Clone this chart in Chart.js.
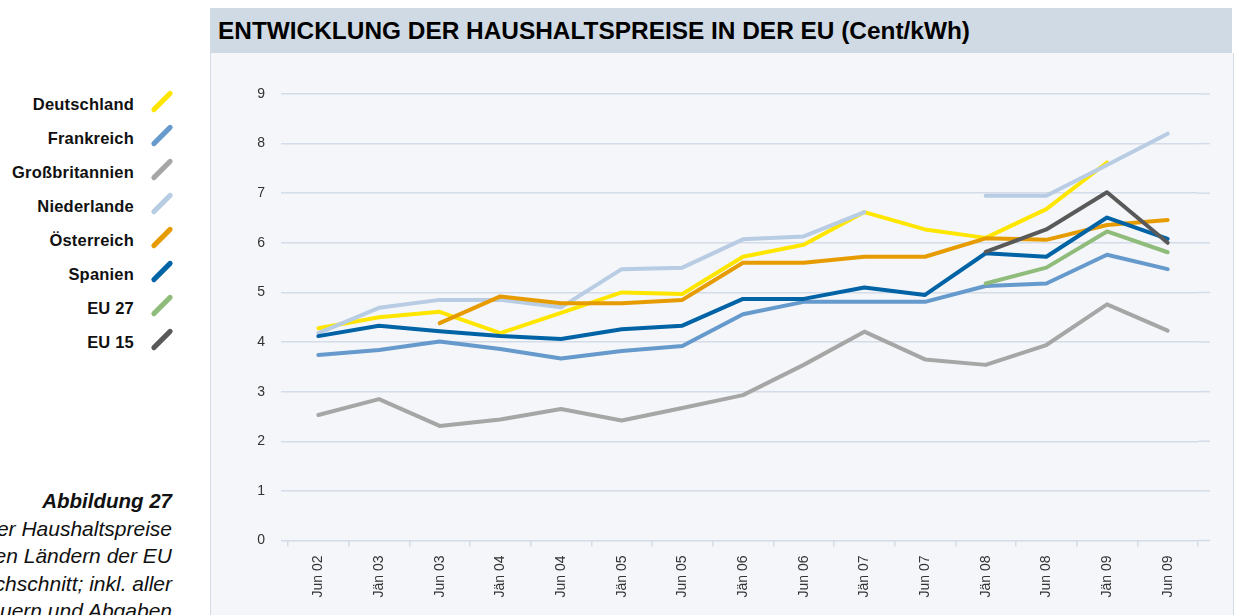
<!DOCTYPE html>
<html>
<head>
<meta charset="utf-8">
<script src="https://cdn.jsdelivr.net/npm/chart.js@4.4.1/dist/chart.umd.min.js"></script>
<style>
  html, body { margin: 0; padding: 0; background: #fff; overflow: hidden; }
  body { width: 1237px; height: 615px; position: relative; font-family: "Liberation Sans", Arial, sans-serif; }
  #title {
    position: absolute; left: 210px; top: 8px; width: 1022px; height: 45px;
    background: #d0dae4; line-height: 46px; box-sizing: border-box; padding-left: 8px;
    font-family: "Liberation Sans Narrow", "Liberation Sans", sans-serif; font-weight: bold;
    font-size: 24px; color: #000; white-space: nowrap;
  }
  #title span { display: inline-block; transform-origin: left center; }
  #panel {
    position: absolute; left: 210px; top: 53px; width: 1022px; height: 562px;
    background: #f4f6f9; border-left: 1px solid #d3dce6; border-right: 1px solid #d3dce6;
  }
  #legend { position: absolute; left: 0; top: 0; width: 180px; }
  .row { position: absolute; left: 0; width: 134px; text-align: right; font-weight: bold; font-size: 16.5px; letter-spacing: 0.2px; color: #111; line-height: 20px; }
  .icon { position: absolute; left: 148px; width: 28px; height: 5px; border-radius: 3px; transform: rotate(-45deg); }
  #caption { position: absolute; right: 1065px; top: 487px; text-align: right; font-style: italic; font-size: 21px; line-height: 27.5px; color: #111; white-space: nowrap; }
  #caption b { font-size: 20.5px; }
</style>
</head>
<body>
<div id="title"><span id="titleText">ENTWICKLUNG DER HAUSHALTSPREISE IN DER EU (Cent/kWh)</span></div>
<div id="legend"></div>
<div id="caption"><b>Abbildung 27</b><br>Entwicklung der Haushaltspreise<br>in verschiedenen Ländern der EU<br>(Jahresdurchschnitt; inkl. aller<br>Steuern und Abgaben</div>
<div id="panel"><canvas id="chartCanvas"></canvas></div>
<script>
const categories = ['Jun 02', 'Jän 03', 'Jun 03', 'Jän 04', 'Jun 04', 'Jän 05', 'Jun 05', 'Jän 06',
                    'Jun 06', 'Jän 07', 'Jun 07', 'Jän 08', 'Jun 08', 'Jän 09', 'Jun 09'];

const deutschland = [4.28, 4.50, 4.61, 4.18, 4.59, 5.00, 4.97, 5.72, 5.96, 6.62, 6.27, 6.10, 6.68, 7.62, null];
const frankreich = [3.74, 3.84, 4.01, 3.86, 3.67, 3.82, 3.92, 4.56, 4.81, 4.81, 4.81, 5.13, 5.18, 5.76, 5.47];
const grossbritannien = [2.53, 2.85, 2.31, 2.44, 2.65, 2.42, 2.67, 2.93, 3.54, 4.21, 3.65, 3.54, 3.94, 4.76, 4.23];
const niederlande = [4.18, 4.69, 4.85, 4.85, 4.70, 5.47, 5.50, 6.07, 6.13, 6.62, null, 6.95, 6.95, 7.57, 8.20];
const oesterreich = [null, null, 4.38, 4.92, 4.78, 4.78, 4.85, 5.60, 5.60, 5.72, 5.72, 6.09, 6.06, 6.36, 6.46];
const spanien = [4.12, 4.33, 4.22, 4.12, 4.06, 4.26, 4.33, 4.87, 4.87, 5.10, 4.95, 5.79, 5.72, 6.51, 6.08];
const eu27 = [null, null, null, null, null, null, null, null, null, null, null, 5.18, 5.50, 6.23, 5.81];
const eu15 = [null, null, null, null, null, null, null, null, null, null, null, 5.82, 6.27, 7.02, 6.00];

const yTicks = [0, 1, 2, 3, 4, 5, 6, 7, 8, 9];

const seriesNames = ['Deutschland', 'Frankreich', 'Großbritannien', 'Niederlande', 'Österreich', 'Spanien', 'EU 27', 'EU 15'];
const seriesData = [deutschland, frankreich, grossbritannien, niederlande, oesterreich, spanien, eu27, eu15];
const seriesColors = ['#ffe600', '#6699cc', '#a6a6a6', '#b8cce4', '#e69c00', '#0063a6', '#8fbc7a', '#595959'];

const gridColor = '#d3dce8';

// legend on the left, built from the series
const legend = document.getElementById('legend');
seriesNames.forEach((name, i) => {
    const y = 104 + i * 34;
    const row = document.createElement('div');
    row.className = 'row';
    row.style.top = (y - 10) + 'px';
    row.textContent = name;
    legend.appendChild(row);
    const icon = document.createElement('div');
    icon.className = 'icon';
    icon.style.top = (y - 5) + 'px';
    icon.style.background = seriesColors[i];
    legend.appendChild(icon);
});

// fit the title to its width in the reference
const tt = document.getElementById('titleText');
tt.style.transform = 'scaleX(' + (752 / tt.getBoundingClientRect().width) + ')';

// horizontal grid lines run a bit past the last category
const gridExtend = {
    id: 'gridExtend',
    beforeDatasetsDraw(chart) {
        const ctx = chart.ctx, area = chart.chartArea, y = chart.scales.y;
        ctx.save();
        ctx.strokeStyle = gridColor;
        ctx.lineWidth = 1.5;
        y.ticks.forEach(t => {
            const py = y.getPixelForValue(t.value);
            ctx.beginPath();
            ctx.moveTo(area.right, py);
            ctx.lineTo(area.right + 12, py);
            ctx.stroke();
        });
        ctx.restore();
    }
};

const n = seriesNames.length;
const ctx = document.getElementById('chartCanvas').getContext('2d');
window.myChart = new Chart(ctx, {
    type: 'line',
    data: {
        labels: categories,
        datasets: seriesNames.map((name, i) => ({
            label: name,
            data: seriesData[i],
            borderColor: seriesColors[i],
            backgroundColor: seriesColors[i],
            borderWidth: 4,
            pointRadius: 0,
            pointHoverRadius: 0,
            tension: 0,
            spanGaps: false,
            borderJoinStyle: 'round',
            borderCapStyle: 'round',
            order: n - i
        }))
    },
    options: {
        responsive: true,
        maintainAspectRatio: false,
        animation: false,
        layout: { padding: { top: 41, right: 35, left: 0, bottom: 0 } },
        plugins: { legend: { display: false }, tooltip: { enabled: false } },
        scales: {
            x: {
                offset: true,
                border: { display: false },
                grid: { offset: true, drawOnChartArea: false, drawTicks: true, tickLength: 6, color: gridColor, lineWidth: 1.5 },
                ticks: {
                    minRotation: 90, maxRotation: 90, padding: 9, autoSkip: false,
                    color: '#333', font: { family: 'Liberation Sans', size: 14 }
                },
                afterFit(scale) { scale.height = 74.5; }
            },
            y: {
                min: 0,
                max: 9,
                border: { display: false },
                grid: { color: gridColor, lineWidth: 1.5, drawTicks: true, tickLength: 7 },
                afterBuildTicks(scale) { scale.ticks = yTicks.map(v => ({ value: v })); },
                ticks: { padding: 16, color: '#333', font: { family: 'Liberation Sans', size: 14 } },
                afterFit(scale) { scale.width = 77; }
            }
        }
    },
    plugins: [gridExtend]
});
</script>
</body>
</html>
